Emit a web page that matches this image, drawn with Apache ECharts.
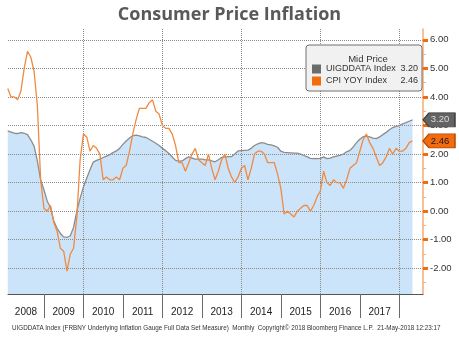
<!DOCTYPE html>
<html>
<head>
<meta charset="utf-8">
<script src="https://cdn.jsdelivr.net/npm/echarts@6/dist/echarts.min.js"></script>
<style>
  html, body { margin: 0; padding: 0; background: #ffffff; }
  #chart { width: 459px; height: 341px; }
</style>
</head>
<body>
<div id="chart"></div>
<script>
// Monthly observations, Jan 2008 through Apr 2018 (month-end values)
const firstYear = 2008;

// FRBNY Underlying Inflation Gauge, full data set measure (%)
const uigIndex = [
  2.81, 2.77, 2.73, 2.72, 2.75, 2.73, 2.68, 2.50, 2.28, 1.76, 1.10, 0.75,
  0.35, 0.13, -0.34, -0.60, -0.78, -0.90, -0.92, -0.86, -0.57, 0.00, 0.45, 0.85,
  1.15, 1.45, 1.72, 1.78, 1.82, 1.88, 1.93, 1.98, 2.05, 2.11, 2.20, 2.34,
  2.46, 2.56, 2.64, 2.66, 2.64, 2.60, 2.58, 2.52, 2.45, 2.38, 2.30, 2.20,
  2.12, 2.02, 1.90, 1.78, 1.75, 1.76, 1.84, 1.90, 1.86, 1.82, 1.82, 1.82,
  1.80, 1.80, 1.76, 1.73, 1.80, 1.88, 1.90, 1.91, 1.91, 2.00, 2.11, 2.12,
  2.13, 2.14, 2.20, 2.30, 2.36, 2.40, 2.38, 2.34, 2.32, 2.29, 2.24, 2.10,
  2.06, 2.05, 2.04, 2.03, 2.03, 2.00, 1.95, 1.90, 1.85, 1.84, 1.84, 1.85,
  1.90, 1.84, 1.86, 1.90, 1.93, 1.96, 2.00, 2.08, 2.13, 2.25, 2.40, 2.52,
  2.61, 2.63, 2.60, 2.56, 2.54, 2.60, 2.68, 2.76, 2.85, 2.93, 2.97, 3.00,
  3.06, 3.10, 3.15, 3.20
];

// CPI, year-over-year change (%)
const cpiYoy = [
  4.3, 4.0, 4.0, 3.9, 4.2, 5.0, 5.6, 5.4, 4.9, 3.7, 1.1, 0.1,
  0.0, 0.2, -0.4, -0.7, -1.3, -1.4, -2.1, -1.5, -1.3, -0.2, 1.8, 2.7,
  2.6, 2.1, 2.3, 2.2, 2.0, 1.1, 1.2, 1.1, 1.1, 1.2, 1.1, 1.5,
  1.6, 2.1, 2.7, 3.2, 3.6, 3.6, 3.6, 3.8, 3.9, 3.5, 3.4, 3.0,
  2.9, 2.9, 2.7, 2.3, 1.7, 1.7, 1.4, 1.7, 2.0, 2.2, 1.8, 1.7,
  1.6, 2.0, 1.5, 1.1, 1.4, 1.8, 2.0, 1.5, 1.2, 1.0, 1.2, 1.5,
  1.6, 1.1, 1.5, 2.0, 2.1, 2.1, 2.0, 1.7, 1.7, 1.7, 1.3, 0.8,
  -0.1, 0.0, -0.1, -0.2, 0.0, 0.1, 0.2, 0.2, 0.0, 0.2, 0.5, 0.7,
  1.4, 1.0, 0.9, 1.1, 1.0, 1.0, 0.8, 1.1, 1.5, 1.6, 1.7, 2.1,
  2.5, 2.7, 2.4, 2.2, 1.9, 1.6, 1.7, 1.9, 2.2, 2.0, 2.2, 2.1,
  2.1, 2.2, 2.4, 2.46
];

const yearLabels = ['2008', '2009', '2010', '2011', '2012', '2013', '2014', '2015', '2016', '2017'];
const yearBreaks = [2009, 2010, 2011, 2012, 2013, 2014, 2015, 2016, 2017, 2018];
const gridYears = [2010, 2012, 2014, 2016, 2018];
const yTicks = [-2, -1, 0, 1, 2, 3, 4, 5, 6];
const yMinorTicks = [-2.5, -1.5, -0.5, 0.5, 1.5, 2.5, 3.5, 4.5, 5.5];

const seriesNames = ['UIGDDATA Index', 'CPI YOY Index'];
const titleText = 'Consumer Price Inflation';
const legendTitle = 'Mid Price';
const footnote = 'UIGDDATA Index (FRBNY Underlying Inflation Gauge Full Data Set Measure)  Monthly  Copyright\u00A9 2018 Bloomberg Finance L.P.  21-May-2018 12:23:17';

// axis extent in fractional years
const xMin = 2008.09, xMax = 2018.6;
const yMin = -2.9, yMax = 6.38;

const toPoints = arr => arr.map((v, i) => [firstYear + (i + 1) / 12, v]);
const uigLast = uigIndex[uigIndex.length - 1];
const cpiLast = cpiYoy[cpiYoy.length - 1];
const lastValues = { [seriesNames[0]]: uigLast, [seriesNames[1]]: cpiLast };

// label positions: centre of each visible year band
const yearLabelPos = yearLabels.map((y, i) => i === 0 ? (xMin + 2009) / 2 : Number(y) + 0.5);

const FONT = 'Liberation Sans';
const tagPath = 'path://M0,7 L6,0 L32,0 L32,14 L6,14 Z';

const chart = echarts.init(document.getElementById('chart'), null, { renderer: 'canvas' });

chart.setOption({
  backgroundColor: '#ffffff',
  animation: false,
  title: [
    {
      text: titleText,
      left: 'center',
      top: 1,
      textStyle: { fontFamily: 'Open Sans', fontSize: 18, fontWeight: 'bold', color: '#595959' }
    },
    {
      text: legendTitle,
      left: 363,
      textAlign: 'center',
      top: 49,
      textStyle: { fontFamily: FONT, fontSize: 9.5, fontWeight: 'normal', color: '#333333' }
    },
    {
      text: footnote,
      left: 7,
      top: 320,
      textStyle: { fontFamily: FONT, fontSize: 6.3, fontWeight: 'normal', color: '#333333' }
    }
  ],
  legend: {
    orient: 'vertical',
    left: 306,
    top: 45,
    padding: [18, 4, 4, 6],
    itemGap: 0,
    itemWidth: 9,
    itemHeight: 9,
    itemTextGap: 3,
    icon: 'rect',
    backgroundColor: '#f1f1f1',
    borderColor: '#707070',
    borderWidth: 1,
    borderRadius: 3,
    selectedMode: false,
    data: [
      { name: seriesNames[0], itemStyle: { color: '#6b6b6b' } },
      { name: seriesNames[1], itemStyle: { color: '#f26b0f' } }
    ],
    formatter: name => '{n|' + name + '}{v|' + lastValues[name].toFixed(2) + '}',
    textStyle: {
      fontFamily: FONT,
      fontSize: 9,
      color: '#333333',
      lineHeight: 12,
      rich: {
        n: { fontFamily: FONT, fontSize: 9, color: '#333333', width: 74 },
        v: { fontFamily: FONT, fontSize: 9, color: '#333333', width: 18, align: 'right' }
      }
    }
  },
  grid: { left: 8, right: 36, top: 29, bottom: 47, containLabel: false },
  xAxis: [
    {
      type: 'value',
      min: xMin,
      max: xMax,
      position: 'bottom',
      z: 1.5,
      axisLine: { show: true, onZero: false, lineStyle: { color: '#555555', width: 1 } },
      axisTick: { show: true, customValues: yearBreaks, length: 24, lineStyle: { color: '#6a6a6a', width: 1 } },
      axisLabel: {
        show: true,
        customValues: yearLabelPos,
        formatter: v => String(Math.floor(v)),
        margin: 13,
        fontFamily: FONT,
        fontSize: 10,
        color: '#222222'
      },
      splitLine: { show: false }
    },
    {
      type: 'value',
      min: xMin,
      max: xMax,
      position: 'bottom',
      z: 1.5,
      axisLine: { show: false, onZero: false },
      axisTick: { show: false, customValues: gridYears },
      axisLabel: { show: false, customValues: gridYears },
      splitLine: { show: true, lineStyle: { color: '#8a8a8a', type: 'dotted', width: 1 } }
    }
  ],
  yAxis: [
    {
      type: 'value',
      min: yMin,
      max: yMax,
      position: 'right',
      z: 1.5,
      axisLine: { show: true, onZero: false, lineStyle: { color: '#f6ab76', width: 1.5 } },
      axisTick: { show: true, customValues: yTicks, length: 5, inside: false, lineStyle: { color: '#f26b0f', width: 3 } },
      axisLabel: {
        show: true,
        customValues: yTicks,
        formatter: v => v.toFixed(2),
        margin: 7,
        fontFamily: FONT,
        fontSize: 9.5,
        color: '#333333'
      },
      splitLine: { show: true, lineStyle: { color: '#8a8a8a', type: 'dotted', width: 1 } }
    },
    {
      type: 'value',
      min: yMin,
      max: yMax,
      position: 'right',
      z: 1.5,
      axisLine: { show: false, onZero: false },
      axisTick: { show: true, customValues: yMinorTicks, length: 3, lineStyle: { color: '#f6ab76', width: 1 } },
      axisLabel: { show: false, customValues: yMinorTicks },
      splitLine: { show: false }
    }
  ],
  series: [
    {
      name: seriesNames[0],
      type: 'line',
      xAxisIndex: 0,
      yAxisIndex: 0,
      z: 1,
      data: toPoints(uigIndex),
      showSymbol: false,
      symbol: 'none',
      lineStyle: { color: '#8c8c8c', width: 1.3 },
      itemStyle: { color: '#6b6b6b' },
      areaStyle: { color: '#cce4fa', opacity: 1, origin: 'start' },
      markPoint: {
        silent: true,
        symbol: tagPath,
        symbolSize: [32, 14],
        symbolOffset: [16, 0],
        itemStyle: { color: '#636363', borderColor: '#3f3f3f', borderWidth: 1 },
        label: {
          show: true,
          position: 'inside',
          offset: [1, 0],
          formatter: p => p.value.toFixed(2),
          fontFamily: FONT,
          fontSize: 9.5,
          color: '#dddddd'
        },
        data: [{ coord: [xMax, uigLast], value: uigLast }]
      }
    },
    {
      name: seriesNames[1],
      type: 'line',
      xAxisIndex: 0,
      yAxisIndex: 0,
      z: 2,
      data: toPoints(cpiYoy),
      showSymbol: false,
      symbol: 'none',
      lineStyle: { color: '#f08a42', width: 1.3 },
      itemStyle: { color: '#f26b0f' },
      markPoint: {
        silent: true,
        symbol: tagPath,
        symbolSize: [32, 14],
        symbolOffset: [16, 0],
        itemStyle: { color: '#f26b0f', borderColor: '#b14a05', borderWidth: 1 },
        label: {
          show: true,
          position: 'inside',
          offset: [1, 0],
          formatter: p => p.value.toFixed(2),
          fontFamily: FONT,
          fontSize: 9.5,
          color: '#1a1a1a'
        },
        data: [{ coord: [xMax, cpiLast], value: cpiLast }]
      }
    }
  ]
});
</script>
</body>
</html>
